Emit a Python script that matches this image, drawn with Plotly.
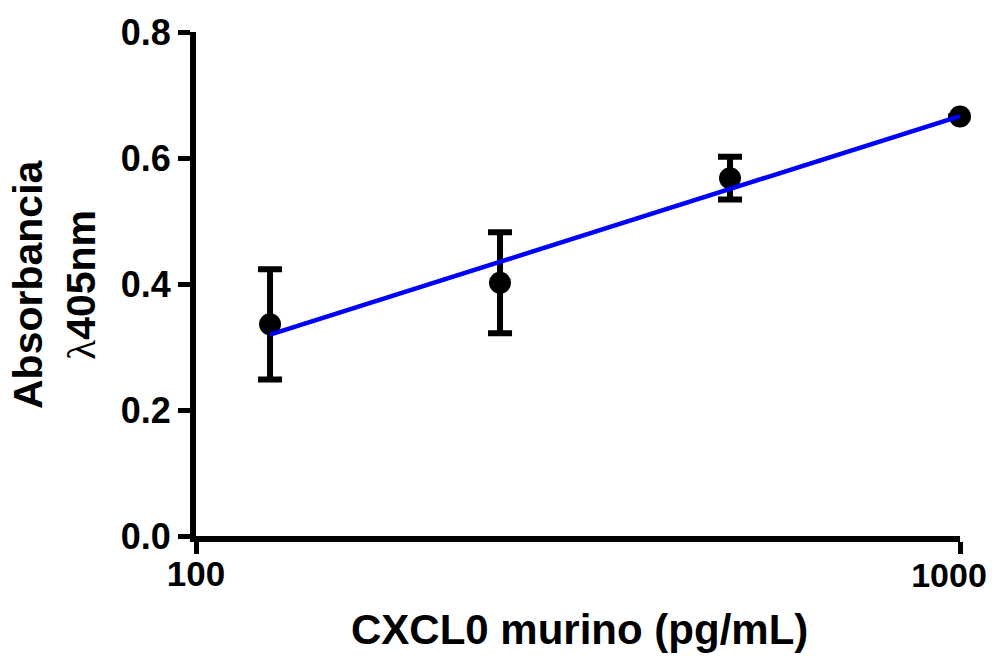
import numpy as np
import plotly.graph_objects as go

# Data
concentration = [125, 250, 500, 1000]          # CXCL0 murino (pg/mL)
absorbance = [0.336, 0.402, 0.568, 0.666]      # mean absorbance at 405 nm
abs_error = [0.0875, 0.080, 0.034, 0.0]        # error bars (+/-)

y_ticks = [0.0, 0.2, 0.4, 0.6, 0.8]
x_ticks = [100, 1000]
x_tick_labels = ["100", "1000"]

# Linear regression of absorbance vs log10(concentration)
logx = np.log10(concentration)
slope, intercept = np.polyfit(logx, absorbance, 1)
fit_x = np.array([concentration[0], concentration[-1]])
fit_y = intercept + slope * np.log10(fit_x)

FONT = "Arial, Liberation Sans, Helvetica, sans-serif"

L, R, T, B = 196, 43, 30, 120
W, H = 1003, 656
pw = W - L - R

fig = go.Figure()
fig.add_trace(go.Scatter(
    x=concentration, y=absorbance, mode="markers",
    marker=dict(color="black", size=22),
    error_y=dict(type="data", array=abs_error, visible=True,
                 color="black", thickness=6, width=12),
    showlegend=False, cliponaxis=False,
))
fig.add_trace(go.Scatter(
    x=fit_x, y=fit_y, mode="lines",
    line=dict(color="#0000ff", width=4.5),
    showlegend=False, cliponaxis=False,
))
# empty helper trace so the secondary label axis is rendered
fig.add_trace(go.Scatter(x=[], y=[], xaxis="x2", yaxis="y", showlegend=False,
                         hoverinfo="skip"))

common_x = dict(
    type="log", range=[2, 3],
    showgrid=False, zeroline=False,
    ticks="outside", ticklen=12, tickwidth=5,
)

fig.update_layout(
    width=W, height=H,
    margin=dict(l=L, r=R, t=T, b=B),
    plot_bgcolor="white", paper_bgcolor="white",
    font=dict(family=FONT, color="black"),
    xaxis=dict(
        **common_x,
        tickvals=x_ticks, ticktext=[x_tick_labels[0], ""],
        showline=True, linecolor="black", linewidth=6, tickcolor="black",
        ticklabelstandoff=-10,
        tickfont=dict(family=FONT, size=35, color="black", weight="bold"),
    ),
    # second bottom axis carrying only the "1000" label, nudged left to stay on the page
    xaxis2=dict(
        **common_x,
        overlaying="x", anchor="y", side="bottom",
        tickvals=[x_ticks[1]], ticktext=[x_tick_labels[1]],
        showline=False, tickcolor="rgba(0,0,0,0)",
        ticklabelstandoff=-3, ticklabelshift=-11,
        tickfont=dict(family=FONT, size=34, color="black", weight="bold"),
    ),
    yaxis=dict(
        range=[0, 0.8],
        tickvals=y_ticks, ticktext=[f"{v:.1f}" for v in y_ticks],
        showgrid=False, zeroline=False,
        showline=True, linecolor="black", linewidth=6,
        ticks="outside", ticklen=12, tickwidth=5, tickcolor="black",
        tickfont=dict(family=FONT, size=36, color="black", weight="bold"),
    ),
    annotations=[
        dict(
            text="<b>CXCL0 murino (pg/mL)</b>",
            xref="paper", yref="paper", x=(579 - L) / pw, y=-(630 - (H - B)) / (H - T - B),
            xanchor="center", yanchor="middle", showarrow=False,
            font=dict(family=FONT, size=42, color="black"),
        ),
        dict(
            text="<b>Absorbancia</b><br><span style='font-family:Liberation Serif;font-weight:normal'>λ</span><b>405nm</b>",
            xref="paper", yref="paper", x=(54 - L) / pw, y=0.5,
            xanchor="center", yanchor="middle", showarrow=False,
            textangle=-90,
            font=dict(family=FONT, size=41, color="black"),
        ),
    ],
)

fig.write_html("out.html")
